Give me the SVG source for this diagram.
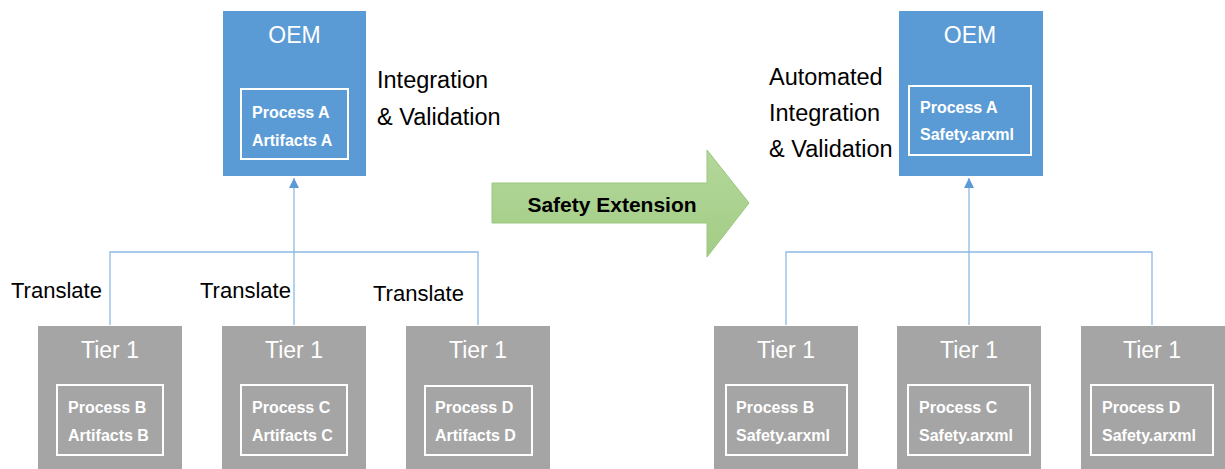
<svg xmlns="http://www.w3.org/2000/svg" width="1225" height="469" viewBox="0 0 1225 469">
  <defs>
    <marker id="head" viewBox="0 0 10 10" refX="10" refY="5" markerWidth="10" markerHeight="10" markerUnits="userSpaceOnUse" orient="auto">
      <path d="M0,0 L10,5 L0,10 Z" fill="#5b9bd5"/>
    </marker>
    <linearGradient id="green" x1="0" y1="0" x2="0" y2="1">
      <stop offset="0" stop-color="#b3d79a"/>
      <stop offset="1" stop-color="#a3cd86"/>
    </linearGradient>
  </defs>
  <style>
    .oem { fill: #5b9bd5; }
    .tier { fill: #a5a5a5; }
    .inner { fill: none; stroke: #ffffff; stroke-width: 2; }
    .title { font-family: "Liberation Sans", Arial, sans-serif; font-size: 23px; fill: #ffffff; text-anchor: middle; }
    .item { font-family: "Liberation Sans", Arial, sans-serif; font-size: 16px; font-weight: bold; fill: #ffffff; }
    .label { font-family: "Liberation Sans", Arial, sans-serif; font-size: 22px; fill: #000000; }
    .big { font-family: "Liberation Sans", Arial, sans-serif; font-size: 23.5px; fill: #000000; }
    .wire { fill: none; stroke: #8db9e4; stroke-width: 1.3; }
  </style>
  <rect width="1225" height="469" fill="#ffffff"/>

  <!-- connectors -->
  <g id="connectors">
    <path class="wire" d="M110,325 V252 H478 V325"/>
    <path class="wire" d="M294,325 V178" marker-end="url(#head)"/>
    <path class="wire" d="M786,325 V252 H1152 V325"/>
    <path class="wire" d="M969,325 V178" marker-end="url(#head)"/>
  </g>

  <!-- left side -->
  <g id="oem-left">
    <rect class="oem" x="223" y="11" width="143" height="165"/>
    <text class="title" x="294.5" y="43">OEM</text>
    <rect class="inner" x="241" y="89" width="107" height="70"/>
    <text class="item" x="252" y="118">Process A</text>
    <text class="item" x="252" y="146">Artifacts A</text>
  </g>
  <g id="label-integration">
    <text class="big" x="377" y="88">Integration</text>
    <text class="big" x="377" y="125">&amp; Validation</text>
  </g>

  <g id="tier-b">
    <rect class="tier" x="38" y="326" width="144" height="143"/>
    <text class="title" x="110" y="358">Tier 1</text>
    <rect class="inner" x="57" y="385" width="106" height="70"/>
    <text class="item" x="68" y="413">Process B</text>
    <text class="item" x="68" y="441">Artifacts B</text>
  </g>
  <g id="tier-c">
    <rect class="tier" x="222" y="326" width="144" height="143"/>
    <text class="title" x="294" y="358">Tier 1</text>
    <rect class="inner" x="241" y="385" width="106" height="70"/>
    <text class="item" x="252" y="413">Process C</text>
    <text class="item" x="252" y="441">Artifacts C</text>
  </g>
  <g id="tier-d">
    <rect class="tier" x="406" y="326" width="144" height="143"/>
    <text class="title" x="478" y="358">Tier 1</text>
    <rect class="inner" x="425" y="386" width="107" height="69"/>
    <text class="item" x="435" y="413">Process D</text>
    <text class="item" x="435" y="441">Artifacts D</text>
  </g>

  <g id="translate-labels">
    <text class="label" x="11" y="298">Translate</text>
    <text class="label" x="200" y="298">Translate</text>
    <text class="label" x="373" y="301">Translate</text>
  </g>

  <!-- block arrow -->
  <g id="safety-extension">
    <path d="M492,183 H707 V150 L749,203 L707,257 V223 H492 Z" fill="url(#green)" stroke="#9cc67e" stroke-width="1"/>
    <text x="612" y="212" font-family="Liberation Sans, Arial, sans-serif" font-size="21" font-weight="bold" fill="#000000" text-anchor="middle">Safety Extension</text>
  </g>

  <!-- right side -->
  <g id="oem-right">
    <rect class="oem" x="899" y="11" width="144" height="165"/>
    <text class="title" x="970" y="43">OEM</text>
    <rect class="inner" x="909" y="86" width="122" height="69"/>
    <text class="item" x="920" y="113">Process A</text>
    <text class="item" x="920" y="140">Safety.arxml</text>
  </g>
  <g id="label-automated">
    <text class="big" x="769" y="85">Automated</text>
    <text class="big" x="769" y="121">Integration</text>
    <text class="big" x="769" y="157">&amp; Validation</text>
  </g>

  <g id="tier-b2">
    <rect class="tier" x="714" y="326" width="144" height="143"/>
    <text class="title" x="786" y="358">Tier 1</text>
    <rect class="inner" x="726" y="385" width="121" height="70"/>
    <text class="item" x="736" y="413">Process B</text>
    <text class="item" x="736" y="441">Safety.arxml</text>
  </g>
  <g id="tier-c2">
    <rect class="tier" x="897" y="326" width="144" height="143"/>
    <text class="title" x="969" y="358">Tier 1</text>
    <rect class="inner" x="908" y="385" width="122" height="70"/>
    <text class="item" x="919" y="413">Process C</text>
    <text class="item" x="919" y="441">Safety.arxml</text>
  </g>
  <g id="tier-d2">
    <rect class="tier" x="1081" y="326" width="144" height="143"/>
    <text class="title" x="1152" y="358">Tier 1</text>
    <rect class="inner" x="1091" y="385" width="122" height="70"/>
    <text class="item" x="1102" y="413">Process D</text>
    <text class="item" x="1102" y="441">Safety.arxml</text>
  </g>
</svg>
